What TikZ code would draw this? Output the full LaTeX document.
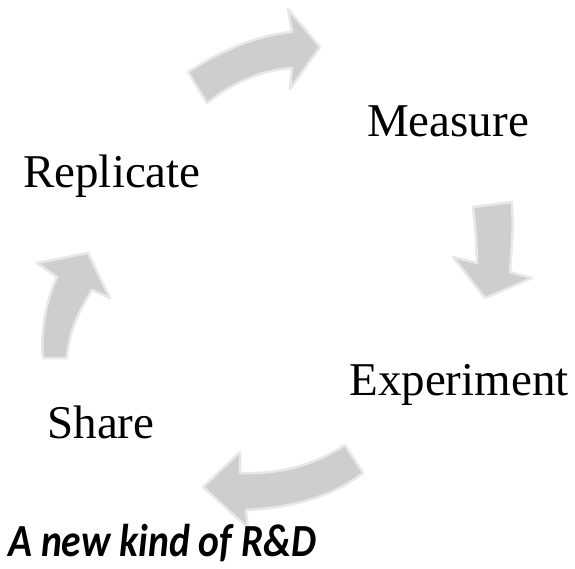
\documentclass[tikz,border=0pt]{standalone}
\usepackage{fontspec}
\setmainfont{Liberation Serif}
\newfontfamily\titlefont{Carlito}
\definecolor{arrowgray}{RGB}{206,206,206}
\definecolor{glowgray}{RGB}{232,232,232}
\begin{document}
\begin{tikzpicture}[x=1pt, y=-1pt,
    cyclearrow/.style={fill=arrowgray, draw=glowgray, line width=2.5pt, line join=round},
    steplabel/.style={anchor=base, inner sep=0pt, font=\fontsize{47}{50}\selectfont}]
	\useasboundingbox (0, 0) rectangle (575, 569);
	% top arrow
	\draw[cyclearrow] (188, 72) .. controls (222, 50) and (258, 35) .. (292, 32)
	    -- (288, 9) -- (320, 47) -- (290, 89) -- (292, 68)
	    .. controls (262, 70) and (234, 82) .. (207, 103) -- cycle;
	% right arrow
	\draw[cyclearrow] (473, 207) -- (512, 202) .. controls (513, 230) .. (510, 272)
	    -- (532, 278) -- (485, 298) -- (453, 257) -- (477, 263)
	    .. controls (476, 235) .. cycle;
	% bottom arrow
	\draw[cyclearrow] (345, 445) .. controls (310, 468) and (275, 474) .. (240, 473)
	    -- (240, 452) -- (203, 487) -- (248, 528) -- (246, 510)
	    .. controls (290, 508) and (330, 498) .. (363, 473) -- cycle;
	% left arrow
	\draw[cyclearrow] (43, 358) .. controls (40, 325) and (48, 297) .. (57, 277)
	    -- (37, 263) -- (88, 253) -- (110, 298) -- (92, 290)
	    .. controls (78, 312) and (68, 335) .. (67, 358) -- cycle;
	\node[steplabel] (measure) at (448, 137) {Measure};
	\node[steplabel] (replicate) at (112, 188) {Replicate};
	\node[steplabel] (experiment) at (459, 395) {Experiment};
	\node[steplabel] (share) at (101, 438) {Share};
	\node[anchor=base west, inner sep=0pt, font=\titlefont\bfseries\itshape\fontsize{46}{50}\selectfont] (title) at (8, 556) {\scalebox{0.86}[1]{A new kind of R\&D}};
\end{tikzpicture}
\end{document}
